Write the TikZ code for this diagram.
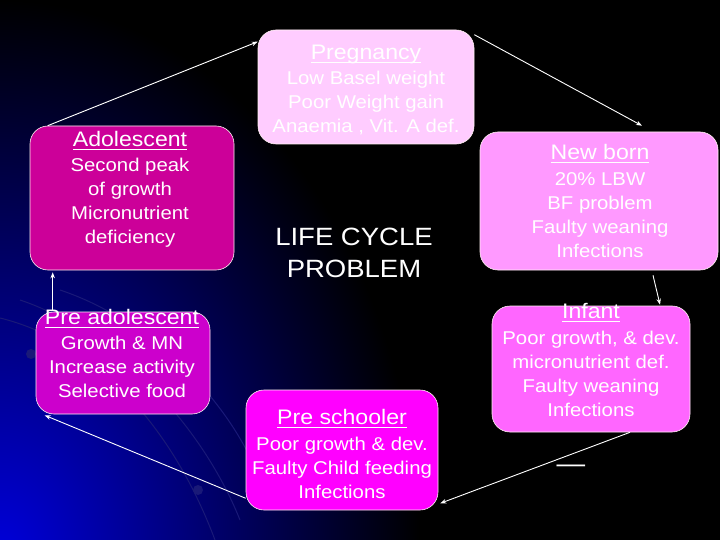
\documentclass[tikz,border=0pt]{standalone}
\usepackage{fontspec}
\setmainfont[FakeStretch=1.1]{Liberation Sans}
\usetikzlibrary{arrows.meta}

\definecolor{pregpink}{RGB}{255,204,255}
\definecolor{adolpink}{RGB}{204,0,153}
\definecolor{newbpink}{RGB}{255,153,255}
\definecolor{infpink}{RGB}{255,102,255}
\definecolor{prespink}{RGB}{255,0,255}
\definecolor{padpink}{RGB}{204,0,204}
\definecolor{glowblue}{RGB}{0,0,220}
\definecolor{arcblue}{RGB}{25,25,120}

\newcommand{\stagetitle}[1]{{\fontsize{21}{24}\selectfont\setbox0\hbox{#1}\rlap{\rule[-3.5pt]{\wd0}{1.1pt}}\box0}}

\begin{document}
\begin{tikzpicture}[x=1pt, y=-1pt, >={Stealth[length=6pt, width=4.5pt]},
    stagebox/.style={draw=white!80!pink, line width=0.6pt, rounded corners=18pt},
    stagetext/.style={text=white, align=center, anchor=north, inner sep=0pt,
        font=\fontsize{18.5}{24}\selectfont},
    cycle/.style={->, white, line width=0.9pt}]

    % background
    \fill[black] (0,0) rectangle (720,540);
    \begin{scope}
        \clip (0,0) rectangle (720,540);
        \shade[inner color=glowblue, outer color=black] (0,560) ellipse (420 and 560);
        \draw[arcblue, line width=1pt] (0,318) .. controls (90,340) and (170,420) .. (215,540);
        \draw[arcblue, line width=1pt] (20,300) .. controls (110,330) and (200,420) .. (240,520);
        \draw[arcblue, line width=1pt] (60,290) .. controls (150,320) and (230,400) .. (260,480);
        \fill[arcblue] (31,354) circle (5);
        \fill[arcblue] (198,490) circle (5);
    \end{scope}

    \node[stagebox, fill=pregpink, minimum width=216pt, minimum height=114pt] (pregnancy) at (366,87) {};
    \node[stagebox, fill=adolpink, minimum width=204pt, minimum height=144pt] (adolescent) at (132,198) {};
    \node[stagebox, fill=newbpink, minimum width=238pt, minimum height=138pt] (newborn) at (599,201) {};
    \node[stagebox, fill=infpink, minimum width=198pt, minimum height=126pt] (infant) at (591,369) {};
    \node[stagebox, fill=prespink, minimum width=192pt, minimum height=120pt] (preschool) at (342,450) {};
    \node[stagebox, fill=padpink, minimum width=174pt, minimum height=102pt] (preadol) at (123,363) {};

    \node[stagetext] (pregnancytxt) at (366,45)
        {\stagetitle{Pregnancy}\\[1pt] Low Basel weight\\ Poor Weight gain\\ Anaemia , Vit. A def.};
    \node[stagetext] (adolescenttxt) at (130,131)
        {\stagetitle{Adolescent}\\[1pt] Second peak\\ of growth\\ Micronutrient\\ deficiency};
    \node[stagetext] (newborntxt) at (600,144)
        {\stagetitle{New born}\\[2pt] 20\% LBW\\ BF problem\\ Faulty weaning\\ Infections};
    \node[stagetext] (infanttxt) at (591,303)
        {\stagetitle{Infant}\\[2pt] Poor growth, \& dev.\\ micronutrient def.\\ Faulty weaning\\ Infections};
    \node[stagetext] (preschooltxt) at (342,409)
        {\stagetitle{Pre schooler}\\[2pt] Poor growth \& dev.\\ Faulty Child feeding\\ Infections};
    \node[stagetext] (preadoltxt) at (122,309)
        {\stagetitle{Pre adolescent}\\[1pt] Growth \& MN\\ Increase activity\\ Selective food};

    \node[stagetext, font=\fontsize{25}{32}\selectfont] (lifecycle) at (354,228) {LIFE CYCLE\\ PROBLEM};
    \node[text=white, font=\fontsize{26}{26}\selectfont, inner sep=0pt] (dash) at (571,469) {—};

    \draw[cycle] ([xshift=18pt]adolescent.north west) -- ([yshift=-12pt]pregnancy.north west);
    \draw[cycle] ([yshift=-5pt]pregnancy.north east) -- ([xshift=43pt, yshift=6pt]newborn.north);
    \draw[cycle] ([xshift=54pt, yshift=-5pt]newborn.south) -- ([xshift=69pt, yshift=1pt]infant.north);
    \draw[cycle] ([xshift=39pt]infant.south) -- ([xshift=2pt, yshift=7pt]preschool.south east);
    \draw[cycle] ([yshift=12pt]preschool.south west) -- ([xshift=9pt, yshift=-1pt]preadol.south west);
    \draw[cycle] ([xshift=17pt, yshift=2pt]preadol.north west) -- ([xshift=23pt, yshift=-2pt]adolescent.south west);
\end{tikzpicture}
\end{document}
